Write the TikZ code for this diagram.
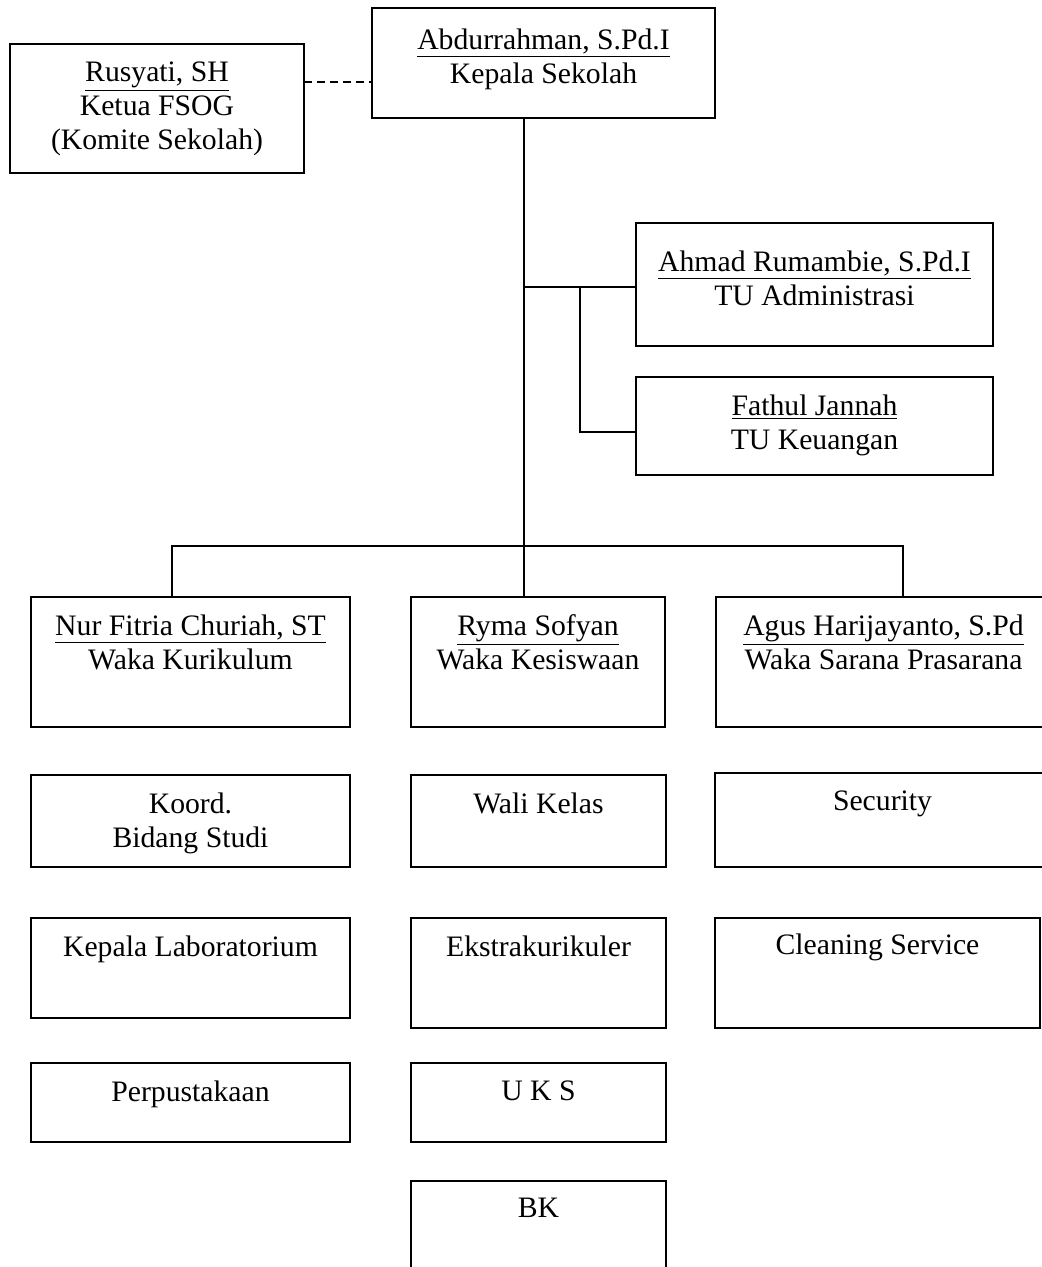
\documentclass[tikz,border=0pt]{standalone}
\usepackage{fontspec}
\setmainfont{Liberation Serif}

\tikzset{
  unit/.style={draw, line width=0.9pt, anchor=north west, inner sep=0pt, outer sep=0pt},
  lbl/.style={anchor=north, align=center, inner sep=8.5pt, font=\fontsize{14.85}{17}\selectfont},
  link/.style={line width=0.7pt}
}

\begin{document}
\begin{tikzpicture}[x=0.5pt, y=-0.5pt]
  \useasboundingbox (0,0) rectangle (1042,1267);

  % Top: head of school and committee
  \node[unit, minimum width=171.5pt, minimum height=55pt,
    label={[lbl, yshift=-1.5pt]north:\underline{Abdurrahman, S.Pd.I}\\Kepala Sekolah}] (ks) at (372,8) {};
  \node[unit, minimum width=147pt, minimum height=64.5pt,
    label={[lbl]north:\underline{Rusyati, SH}\\Ketua FSOG\\(Komite Sekolah)}] (fsog) at (10,44) {};

  % Administration
  \node[unit, minimum width=178.5pt, minimum height=61.5pt,
    label={[lbl, yshift=-5pt]north:\underline{Ahmad Rumambie, S.Pd.I}\\TU Administrasi}] (tuadm) at (636,223) {};
  \node[unit, minimum width=178.5pt, minimum height=49pt,
    label={[lbl]north:\underline{Fathul Jannah}\\TU Keuangan}] (tuku) at (636,377) {};

  % Vice heads
  \node[unit, minimum width=159.5pt, minimum height=65pt,
    label={[lbl]north:\underline{Nur Fitria Churiah, ST}\\Waka Kurikulum}] (kur) at (31,597) {};
  \node[unit, minimum width=127pt, minimum height=65pt,
    label={[lbl]north:\underline{Ryma Sofyan}\\Waka Kesiswaan}] (kes) at (411,597) {};
  \node[unit, minimum width=167.5pt, minimum height=65pt,
    label={[lbl]north:\underline{Agus Harijayanto, S.Pd}\\Waka Sarana Prasarana}] (sar) at (716,597) {};

  % Units under each vice head
  \node[unit, minimum width=159.5pt, minimum height=46pt,
    label={[lbl]north:Koord.\\Bidang Studi}] (koord) at (31,775) {};
  \node[unit, minimum width=159.5pt, minimum height=50pt,
    label={[lbl]north:Kepala Laboratorium}] (lab) at (31,918) {};
  \node[unit, minimum width=159.5pt, minimum height=39.5pt,
    label={[lbl]north:Perpustakaan}] (pus) at (31,1063) {};

  \node[unit, minimum width=127.5pt, minimum height=46pt,
    label={[lbl]north:Wali Kelas}] (wali) at (411,775) {};
  \node[unit, minimum width=127.5pt, minimum height=55pt,
    label={[lbl]north:Ekstrakurikuler}] (eks) at (411,918) {};
  \node[unit, minimum width=127.5pt, minimum height=39.5pt,
    label={[lbl]north:U K S}] (uks) at (411,1063) {};
  \node[unit, minimum width=127.5pt, minimum height=55pt,
    label={[lbl]north:BK}] (bk) at (411,1181) {};

  \node[unit, minimum width=167.5pt, minimum height=47pt,
    label={[lbl]north:Security}] (sec) at (715,773) {};
  \node[unit, minimum width=162.5pt, minimum height=55pt,
    label={[lbl, yshift=1pt]north:Cleaning Service}] (clean) at (715,918) {};

  % Junction points
  \coordinate (trunk) at (524,546);
  \coordinate (barL) at (172,546);
  \coordinate (barR) at (903,546);
  \coordinate (tusplit) at (580,287);
  \coordinate (dash) at (0,82);

  % Connectors
  \draw[link, dashed, dash pattern=on 4pt off 2.5pt] (fsog.east |- dash) -- (ks.west |- dash);
  \draw[link] (ks.south -| trunk) -- (kes.north -| trunk);
  \draw[link] (tusplit -| trunk) -- (tusplit -| tuadm.west);
  \draw[link] (tusplit) |- ([yshift=-3pt]tuku.west);
  \draw[link] (kur.north -| barL) -- (barL) -- (barR) -- (sar.north -| barR);
\end{tikzpicture}
\end{document}
